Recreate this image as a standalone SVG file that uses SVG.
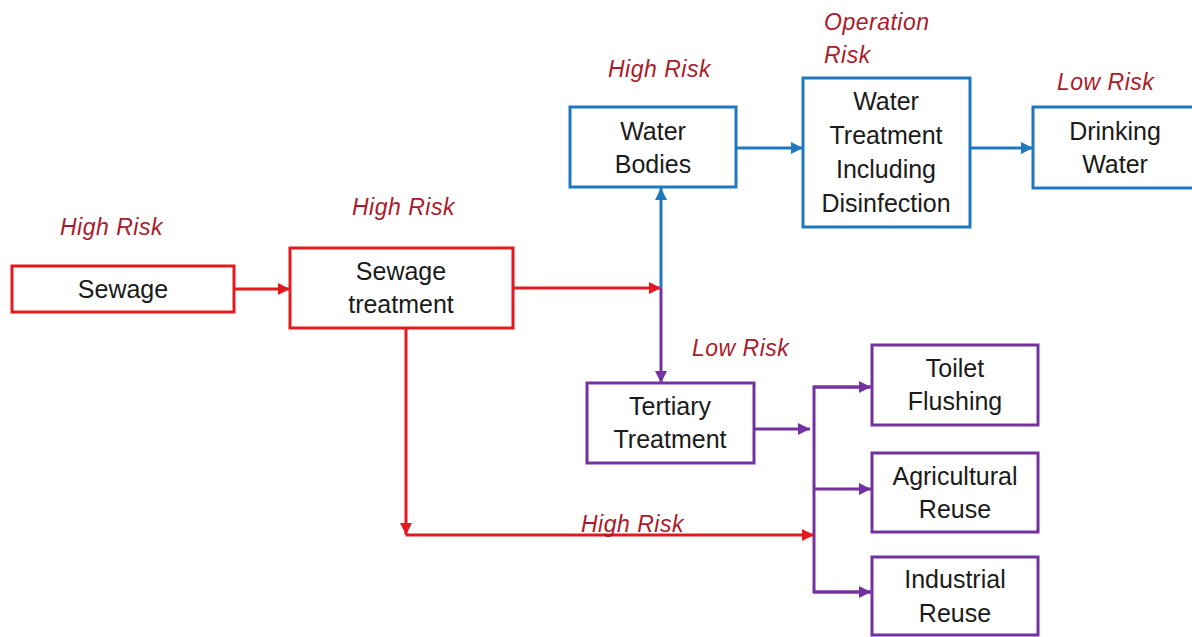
<svg xmlns="http://www.w3.org/2000/svg" width="1192" height="637" viewBox="0 0 1192 637">
<style>
.box{fill:#ffffff;stroke-width:3}
.red{stroke:#e01a1f}
.blue{stroke:#1f78bd}
.pur{stroke:#7432a0}
.t{font-family:"Liberation Sans",Arial,sans-serif;font-size:25px;fill:#1a1a1a;text-anchor:middle}
.r{font-family:"Liberation Sans",Arial,sans-serif;font-size:23px;letter-spacing:0.5px;font-style:italic;fill:#a91b2b}
.ln{fill:none;stroke-width:3}
</style>
<defs>
<marker id="ar" markerUnits="userSpaceOnUse" markerWidth="14" markerHeight="14" refX="12" refY="6" orient="auto"><path d="M0,0 L12,6 L0,12 Z" fill="#e01a1f"/></marker>
<marker id="ab" markerUnits="userSpaceOnUse" markerWidth="14" markerHeight="14" refX="12" refY="6" orient="auto"><path d="M0,0 L12,6 L0,12 Z" fill="#1f78bd"/></marker>
<marker id="ap" markerUnits="userSpaceOnUse" markerWidth="14" markerHeight="14" refX="12" refY="6" orient="auto"><path d="M0,0 L12,6 L0,12 Z" fill="#7432a0"/></marker>
</defs>
<rect width="1192" height="637" fill="#ffffff"/>
<g id="connectors">
<line class="ln red" x1="234" y1="289" x2="290" y2="289" marker-end="url(#ar)"/>
<line class="ln red" x1="513" y1="288" x2="661" y2="288" marker-end="url(#ar)"/>
<line class="ln blue" x1="661" y1="288" x2="661" y2="188" marker-end="url(#ab)"/>
<line class="ln pur" x1="661" y1="288" x2="661" y2="383" marker-end="url(#ap)"/>
<line class="ln blue" x1="736" y1="148" x2="803" y2="148" marker-end="url(#ab)"/>
<line class="ln blue" x1="970" y1="148" x2="1033" y2="148" marker-end="url(#ab)"/>
<line class="ln pur" x1="754" y1="429" x2="810" y2="429" marker-end="url(#ap)"/>
<path class="ln pur" d="M870,387 H814 V592 H870"/>
<line class="ln pur" x1="814" y1="387" x2="871" y2="387" marker-end="url(#ap)"/>
<line class="ln pur" x1="814" y1="489" x2="871" y2="489" marker-end="url(#ap)"/>
<line class="ln pur" x1="814" y1="592" x2="871" y2="592" marker-end="url(#ap)"/>
<line class="ln red" x1="406" y1="328" x2="406" y2="535" marker-end="url(#ar)"/>
<line class="ln red" x1="406" y1="535" x2="814" y2="535" marker-end="url(#ar)"/>
</g>
<g id="sewage">
<rect class="box red" x="12" y="266" width="222" height="46"/>
<text class="t" x="123" y="298">Sewage</text>
<text class="r" x="60" y="235">High Risk</text>
</g>
<g id="sewage-treatment">
<rect class="box red" x="290" y="248" width="223" height="80"/>
<text class="t" x="401" y="280">Sewage</text>
<text class="t" x="401" y="313">treatment</text>
<text class="r" x="352" y="215">High Risk</text>
</g>
<g id="water-bodies">
<rect class="box blue" x="570" y="107" width="166" height="80"/>
<text class="t" x="653" y="140">Water</text>
<text class="t" x="653" y="173">Bodies</text>
<text class="r" x="608" y="77">High Risk</text>
</g>
<g id="water-treatment">
<rect class="box blue" x="803" y="78" width="167" height="149"/>
<text class="t" x="886" y="110">Water</text>
<text class="t" x="886" y="144">Treatment</text>
<text class="t" x="886" y="178">Including</text>
<text class="t" x="886" y="212">Disinfection</text>
<text class="r" x="824" y="30">Operation</text>
<text class="r" x="824" y="63">Risk</text>
</g>
<g id="drinking-water">
<rect class="box blue" x="1033" y="107" width="170" height="81"/>
<text class="t" x="1115" y="140">Drinking</text>
<text class="t" x="1115" y="173">Water</text>
<text class="r" x="1057" y="90">Low Risk</text>
</g>
<g id="tertiary-treatment">
<rect class="box pur" x="587" y="383" width="167" height="80"/>
<text class="t" x="670" y="415">Tertiary</text>
<text class="t" x="670" y="448">Treatment</text>
<text class="r" x="692" y="356">Low Risk</text>
</g>
<g id="toilet-flushing">
<rect class="box pur" x="872" y="345" width="166" height="80"/>
<text class="t" x="955" y="377">Toilet</text>
<text class="t" x="955" y="410">Flushing</text>
</g>
<g id="agricultural-reuse">
<rect class="box pur" x="872" y="453" width="166" height="79"/>
<text class="t" x="955" y="485">Agricultural</text>
<text class="t" x="955" y="518">Reuse</text>
</g>
<g id="industrial-reuse">
<rect class="box pur" x="872" y="557" width="166" height="78"/>
<text class="t" x="955" y="588">Industrial</text>
<text class="t" x="955" y="622">Reuse</text>
</g>
<g id="bottom-label">
<text class="r" x="581" y="532">High Risk</text>
</g>
</svg>
